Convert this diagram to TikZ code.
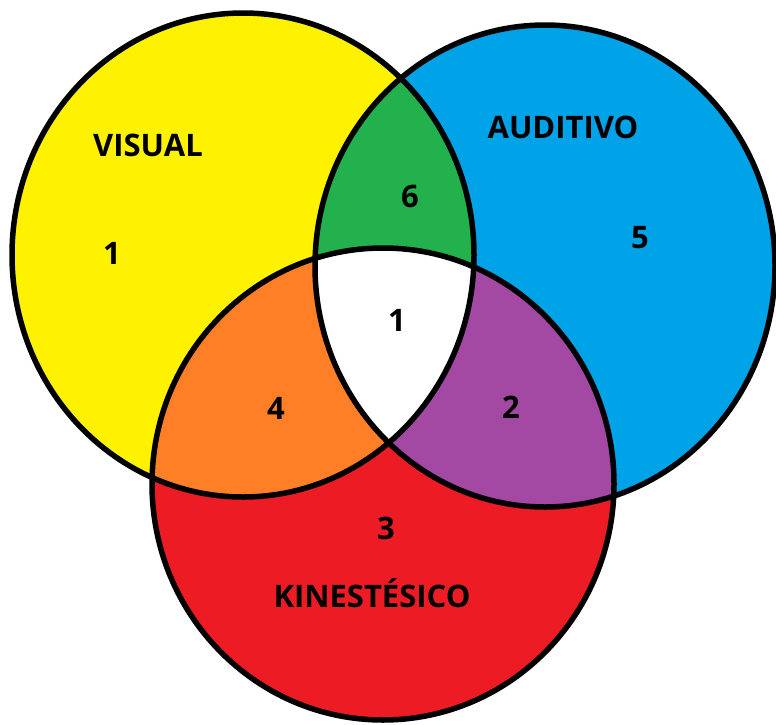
\documentclass[tikz,border=0pt]{standalone}
\usepackage{fontspec}
\setmainfont{Open Sans}
\definecolor{cy}{HTML}{FFF200}
\definecolor{cb}{HTML}{00A2E8}
\definecolor{cr}{HTML}{ED1C24}
\definecolor{cg}{HTML}{22B14C}
\definecolor{co}{HTML}{FF7F27}
\definecolor{cp}{HTML}{A349A4}
\begin{document}
\begin{tikzpicture}[x=1pt,y=-1pt,
  lab/.style={font=\bfseries\fontsize{31}{31}\selectfont, inner sep=0pt},
  ring/.style={draw=black, line width=5.5pt}]
\useasboundingbox (0,0) rectangle (776,724);
% base fills
\fill[cy] (243,255) ellipse [x radius=231, y radius=242];
\fill[cb] (545,266) ellipse [x radius=230, y radius=241];
\fill[cr] (383,484) ellipse [x radius=231, y radius=236];
% pairwise intersections
\begin{scope}
  \clip (243,255) ellipse [x radius=231, y radius=242];
  \fill[cg] (545,266) ellipse [x radius=230, y radius=241];
  \fill[co] (383,484) ellipse [x radius=231, y radius=236];
\end{scope}
\begin{scope}
  \clip (545,266) ellipse [x radius=230, y radius=241];
  \fill[cp] (383,484) ellipse [x radius=231, y radius=236];
\end{scope}
\begin{scope}
  \clip (243,255) ellipse [x radius=231, y radius=242];
  \clip (545,266) ellipse [x radius=230, y radius=241];
  \fill[white] (383,484) ellipse [x radius=231, y radius=236];
\end{scope}
% outlines
\draw[ring] (243,255) ellipse [x radius=231, y radius=242];
\draw[ring] (545,266) ellipse [x radius=230, y radius=241];
\draw[ring] (383,484) ellipse [x radius=231, y radius=236];
% labels
\node[lab] (visual) at (148,145) {VISUAL};
\node[lab] (auditivo) at (563,127) {AUDITIVO};
\node[lab] (kines) at (372,593) {KINESTÉSICO};
\node[lab] (n1a) at (112,253) {1};
\node[lab] (n6) at (410,196) {6};
\node[lab] (n5) at (640,238) {5};
\node[lab] (n1b) at (397,320) {1};
\node[lab] (n4) at (276,408) {4};
\node[lab] (n2) at (511,407) {2};
\node[lab] (n3) at (386,528) {3};
\end{tikzpicture}
\end{document}
